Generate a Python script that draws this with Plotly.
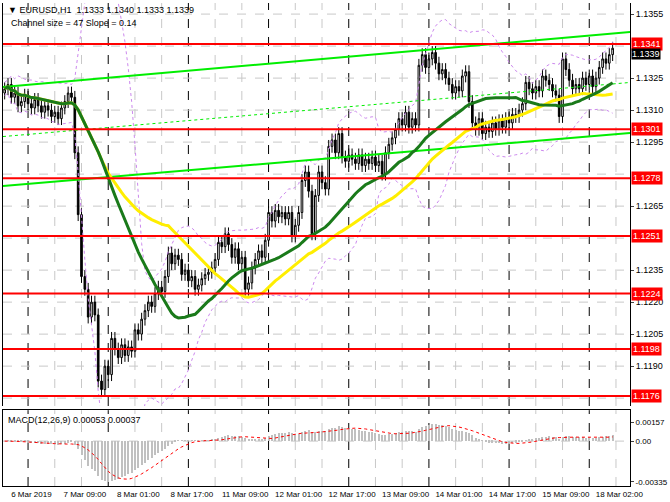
import plotly.graph_objects as go
import pandas as pd
import numpy as np

closes = [1.1320,1.1322,1.1316,1.1318,1.1312,1.1314,1.1317,1.1313,1.1311,1.1315,1.1312,1.1309,1.1312,1.1310,1.1307,1.1309,1.1306,1.1311,1.1314,1.1318,
 1.1316,1.1290,1.1261,1.1232,1.1226,1.1213,1.1220,1.1214,1.1183,1.1179,1.1190,1.1186,1.1203,1.1198,1.1194,1.1200,1.1195,1.1199,1.1197,1.1207,
 1.1205,1.1212,1.1216,1.1220,1.1218,1.1224,1.1227,1.1225,1.1232,1.1243,1.1238,1.1242,1.1240,1.1233,1.1235,1.1230,1.1232,1.1226,1.1228,1.1231,
 1.1233,1.1234,1.1236,1.1240,1.1248,1.1246,1.1252,1.1247,1.1241,1.1245,1.1238,1.1241,1.1226,1.1229,1.1236,1.1240,1.1244,1.1241,1.1249,1.1262,
 1.1258,1.1263,1.1260,1.1262,1.1259,1.1262,1.1251,1.1256,1.1262,1.1277,1.1281,1.1272,1.1252,1.1270,1.1281,1.1276,1.1273,1.1293,1.1296,1.1290,
 1.1299,1.1288,1.1286,1.1289,1.1287,1.1285,1.1289,1.1284,1.1287,1.1285,1.1288,1.1284,1.1286,1.1280,1.1290,1.1294,1.1297,1.1301,1.1306,1.1303,
 1.1309,1.1302,1.1306,1.1303,1.1331,1.1336,1.1330,1.1334,1.1337,1.1332,1.1327,1.1329,1.1325,1.1322,1.1318,1.1321,1.1319,1.1326,1.1328,1.1314,
 1.1304,1.1301,1.1306,1.1299,1.1302,1.1300,1.1304,1.1301,1.1305,1.1302,1.1306,1.1304,1.1308,1.1307,1.1310,1.1313,1.1323,1.1320,1.1318,1.1321,
 1.1319,1.1326,1.1324,1.1322,1.1319,1.1317,1.1307,1.1334,1.1329,1.1324,1.1320,1.1322,1.1320,1.1325,1.1322,1.1326,1.1321,1.1325,1.1330,1.1334,
 1.1332,1.1336,1.1339]
first_open = 1.1318
wick = 0.0003
levels = [1.1341, 1.1301, 1.1278, 1.1251, 1.1224, 1.1198, 1.1176]
price_ticks = [1.1355, 1.1325, 1.1310, 1.1295, 1.1265, 1.1235, 1.1220, 1.1205, 1.1190]
time_labels = ["6 Mar 2019","7 Mar 09:00","8 Mar 01:00","8 Mar 17:00","11 Mar 09:00","12 Mar 01:00",
               "12 Mar 17:00","13 Mar 09:00","14 Mar 01:00","14 Mar 17:00","15 Mar 09:00","18 Mar 02:00"]
label_idx = [0,16,32,48,64,80,96,112,128,144,160,176]
day_sep_idx = [7,31,55,79,103,127,151,175]
chan_x = [-0.5, 187.2]
chan_upper = [1.13208, 1.13466]
chan_lower = [1.12744, 1.12993]

F = "Liberation Sans"
n = len(closes)
x = list(range(n))
c = pd.Series(closes)
o = pd.Series([first_open] + closes[:-1])
h = np.maximum(o, c) + wick
l = np.minimum(o, c) - wick

ma_fast = c.rolling(30, min_periods=1).mean()
ma_slow = c.rolling(50, min_periods=1).mean()
bb_mid = c.rolling(20, min_periods=1).mean()
bb_sd = c.rolling(20, min_periods=2).std().bfill()
macd = c.ewm(span=12, adjust=False).mean() - c.ewm(span=26, adjust=False).mean()
signal = macd.rolling(9, min_periods=1).mean()

fig = go.Figure()
fig.add_trace(go.Scatter(x=x, y=bb_mid + 2.2*bb_sd, mode="lines", line=dict(color="#cc88ee", width=1, dash="dot"), hoverinfo="skip"))
fig.add_trace(go.Scatter(x=x, y=bb_mid - 2.2*bb_sd, mode="lines", line=dict(color="#cc88ee", width=1, dash="dot"), hoverinfo="skip"))
fig.add_trace(go.Scatter(x=chan_x, y=chan_upper, mode="lines", line=dict(color="#00ee00", width=2)))
fig.add_trace(go.Scatter(x=chan_x, y=chan_lower, mode="lines", line=dict(color="#00ee00", width=2)))
fig.add_trace(go.Scatter(x=chan_x, y=[(a+b)/2 for a, b in zip(chan_upper, chan_lower)], mode="lines", line=dict(color="#00ee00", width=1, dash="dot")))
fig.add_trace(go.Candlestick(x=x, open=o, high=h, low=l, close=c,
    increasing=dict(line=dict(color="black", width=1), fillcolor="white"),
    decreasing=dict(line=dict(color="black", width=1), fillcolor="black"), whiskerwidth=0))
fig.add_trace(go.Scatter(x=x, y=ma_slow, mode="lines", line=dict(color="#ffee00", width=3)))
fig.add_trace(go.Scatter(x=x, y=ma_fast, mode="lines", line=dict(color="#1a7a1a", width=3)))
fig.add_trace(go.Bar(x=x, y=macd, marker=dict(color="#c0c0c0", line=dict(width=0)), width=0.6, xaxis="x", yaxis="y2"))
fig.add_trace(go.Scatter(x=x, y=signal, mode="lines", line=dict(color="red", width=1, dash="dot"), xaxis="x", yaxis="y2"))

shapes = []
for lv in levels:
    shapes.append(dict(type="line", xref="paper", x0=0, x1=1, yref="y", y0=lv, y1=lv, line=dict(color="red", width=2)))
for i in range(-1, n + 6, 8):
    col = "black" if i in day_sep_idx else "#c8c8c8"
    for yr in ("y", "y2"):
        shapes.append(dict(type="line", xref="x", x0=i, x1=i, yref=yr + " domain", y0=0, y1=1, line=dict(color=col, width=1, dash="dash"), layer="below"))
for pt in price_ticks + [1.1340, 1.1280, 1.1250, 1.1175]:
    shapes.append(dict(type="line", xref="paper", x0=0, x1=1, yref="y", y0=pt, y1=pt, line=dict(color="#c8c8c8", width=1, dash="dash"), layer="below"))
shapes.append(dict(type="line", xref="paper", x0=0, x1=1, yref="y2", y0=0, y1=0, line=dict(color="#c8c8c8", width=1, dash="dash"), layer="below"))

ann = []
for lv in levels:
    ann.append(dict(xref="paper", x=1.002, y=lv, yref="y", text=f"{lv:.4f}", showarrow=False, xanchor="left",
                    font=dict(color="white", size=9, family=F), bgcolor="red", borderpad=1))
ann.append(dict(xref="paper", x=1.002, y=closes[-1], yref="y", text=f"{closes[-1]:.4f}", showarrow=False, xanchor="left", yanchor="top",
                font=dict(color="white", size=9, family=F), bgcolor="black", borderpad=0))
ann.append(dict(xref="paper", yref="paper", x=0.005, y=1.0, xanchor="left", yanchor="top", showarrow=False,
                text="▼ EURUSD,H1  1.1333 1.1340 1.1333 1.1339", font=dict(size=9, color="black", family=F)))
ann.append(dict(xref="paper", yref="paper", x=0.01, y=0.974, xanchor="left", yanchor="top", showarrow=False,
                text="Channel size = 47 Slope = 0.14", font=dict(size=9, color="black", family=F)))
ann.append(dict(xref="paper", yref="paper", x=0.005, y=0.152, xanchor="left", yanchor="top", showarrow=False,
                text="MACD(12,26,9) 0.00053 0.00037", font=dict(size=9, color="black", family=F)))

fig.update_layout(
    width=670, height=502, margin=dict(l=3, r=40, t=3, b=16),
    paper_bgcolor="white", plot_bgcolor="white", showlegend=False, bargap=0,
    shapes=shapes, annotations=ann,
    font=dict(family=F, size=9, color="black"),
    xaxis=dict(range=[-0.5, 187.2], rangeslider=dict(visible=False), showgrid=False, zeroline=False,
               tickvals=[i + 8 for i in label_idx], ticktext=time_labels, tickangle=0, ticks="",
               tickfont=dict(size=8), showline=True, linecolor="black", mirror=True, anchor="y2", automargin=False),
    yaxis=dict(domain=[0.1656, 1], range=[1.11713, 1.13602], side="right", tickvals=price_ticks,
               ticktext=[f"{t:.4f}" for t in price_ticks], showgrid=False, zeroline=False, automargin=False,
               showline=True, linecolor="black", mirror=True, ticks="outside", ticklen=3),
    yaxis2=dict(domain=[0, 0.157], range=[-0.0037, 0.00255], side="right", tickvals=[0.00157, 0, -0.00335],
                ticktext=["0.00157", "0.00", "-0.00335"], tickfont=dict(size=8), showgrid=False, zeroline=False, automargin=False,
                showline=True, linecolor="black", mirror=True, ticks="outside", ticklen=3),
)
fig.write_html("out.html", config={"displayModeBar": False})
with open("out.html", encoding="utf-8") as fh:
    page = fh.read()
page = page.replace("<head>", "<head><style>html,body{margin:0;padding:0;overflow:hidden}</style>", 1)
with open("out.html", "w", encoding="utf-8") as fh:
    fh.write(page)
